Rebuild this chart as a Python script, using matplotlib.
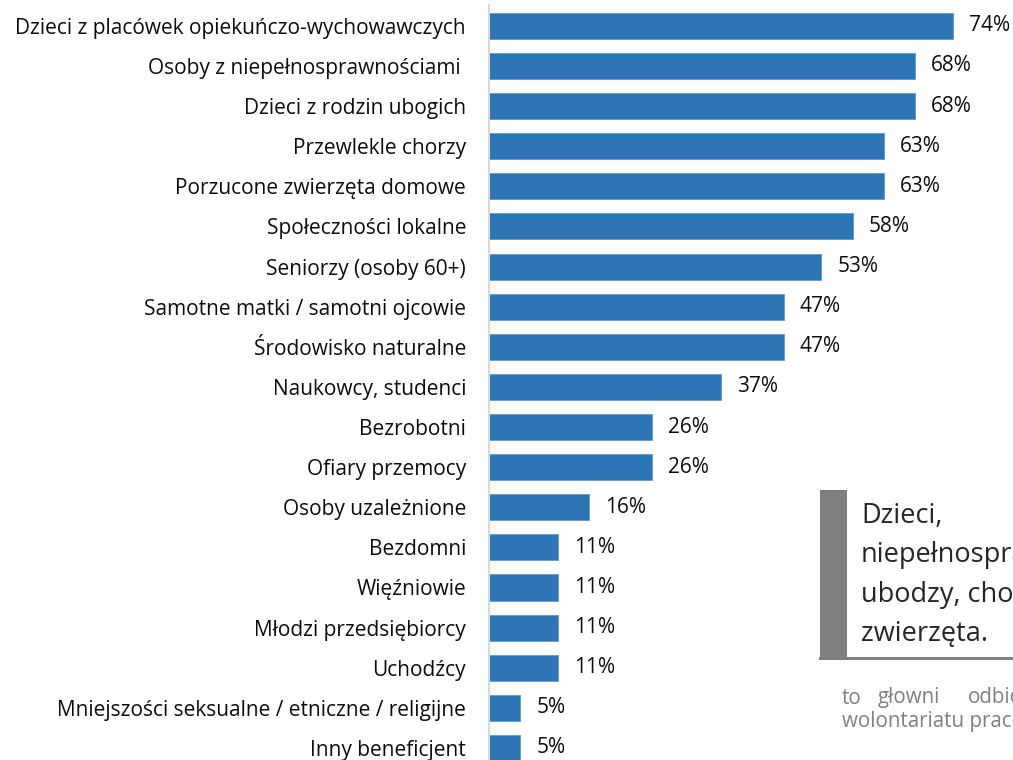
import matplotlib
matplotlib.use("Agg")
import matplotlib.pyplot as plt
from matplotlib.patches import Rectangle
from matplotlib.lines import Line2D

categories = [
    "Dzieci z placówek opiekuńczo-wychowawczych",
    "Osoby z niepełnosprawnościami ",
    "Dzieci z rodzin ubogich",
    "Przewlekle chorzy",
    "Porzucone zwierzęta domowe",
    "Społeczności lokalne",
    "Seniorzy (osoby 60+)",
    "Samotne matki / samotni ojcowie",
    "Środowisko naturalne",
    "Naukowcy, studenci",
    "Bezrobotni",
    "Ofiary przemocy",
    "Osoby uzależnione",
    "Bezdomni",
    "Więźniowie",
    "Młodzi przedsiębiorcy",
    "Uchodźcy",
    "Mniejszości seksualne / etniczne / religijne",
    "Inny beneficjent",
]
values = [74, 68, 68, 63, 63, 58, 53, 47, 47, 37, 26, 26, 16, 11, 11, 11, 11, 5, 5]
value_labels = [f"{v}%" for v in values]

box_lines = ["Dzieci,", "niepełnosprawni,", "ubodzy, chorzy,", "zwierzęta."]
note_words_line1 = ["to", "głowni", "odbiorcy"]
note_line2 = "wolontariatu pracowniczego"

W, H = 1013, 760
plt.rcParams['font.family'] = ['Open Sans', 'DejaVu Sans']
fig = plt.figure(figsize=(W / 100, H / 100), dpi=100)

ax_left, ax_right = 489, 1013
ax_top, ax_bottom = 5, 760
ax = fig.add_axes([ax_left / W, (H - ax_bottom) / H, (ax_right - ax_left) / W, (ax_bottom - ax_top) / H])

FS = 15.0
bar_color = "#2E75B6"
y = list(range(len(categories)))
ax.barh(y, values, height=0.65, color=bar_color, edgecolor="#5B9BD5", linewidth=0.6)
ax.set_xlim(0, 83.6)
ax.set_ylim(18.3, -0.52)
ax.set_yticks(y)
ax.set_yticklabels(categories, fontsize=FS, color="#0D0D0D")
ax.tick_params(axis="y", length=0, pad=16.5)
ax.set_xticks([])
for s in ["top", "right", "bottom"]:
    ax.spines[s].set_visible(False)
ax.spines["left"].set_color("#D9D9D9")
ax.spines["left"].set_linewidth(1.5)

for yi, v, lab in zip(y, values, value_labels):
    ax.annotate(lab, xy=(v, yi), xytext=(11.5, 0), textcoords="offset points",
                ha="left", va="center", fontsize=FS, color="#0D0D0D", annotation_clip=False)

def fx(px):
    return px / W

def fy(py):
    return (H - py) / H

fig.patches.append(Rectangle((fx(820), fy(658)), fx(847) - fx(820), fy(490) - fy(658),
                             transform=fig.transFigure, facecolor="#7F7F7F", edgecolor="none", zorder=5))
fig.lines.append(Line2D([fx(820), fx(1013)], [fy(658), fy(658)], transform=fig.transFigure,
                        color="#7F7F7F", linewidth=2.2, zorder=5))
for i, line in enumerate(box_lines):
    fig.text(fx(861), fy(516 + 39.3 * i), line, ha="left", va="center", fontsize=19.5,
             color="#262626", zorder=6)
for word, xpx in zip(note_words_line1, [842, 878, 968]):
    fig.text(fx(xpx), fy(698), word, ha="left", va="center", fontsize=14.8,
             color="#808080", zorder=6)
fig.text(fx(842), fy(721), note_line2, ha="left", va="center", fontsize=14.8,
         color="#808080", zorder=6)

fig.savefig("out.png", dpi=100)
